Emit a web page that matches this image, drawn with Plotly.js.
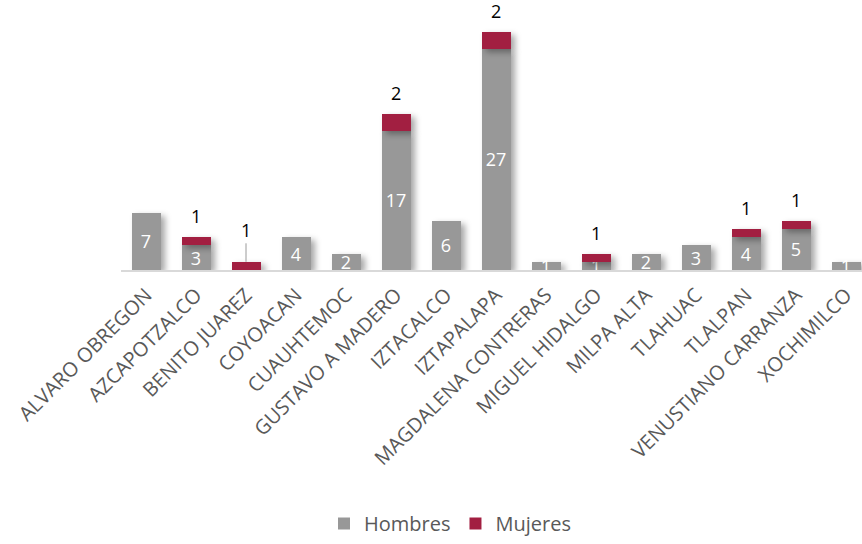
<!DOCTYPE html>
<html>
<head>
<meta charset="utf-8">
<script src="https://cdn.plot.ly/plotly-3.0.1.min.js"></script>
<style>
html,body{margin:0;padding:0;background:#fff;}
#chart{width:862px;height:544px;}
.barlayer .point path{filter:drop-shadow(4px 3px 3px rgba(0,0,0,0.35));}
</style>
</head>
<body>
<div id="chart"></div>
<script>
const categories = ["ALVARO OBREGON","AZCAPOTZALCO","BENITO JUAREZ","COYOACAN","CUAUHTEMOC","GUSTAVO A MADERO","IZTACALCO","IZTAPALAPA","MAGDALENA CONTRERAS","MIGUEL HIDALGO","MILPA ALTA","TLAHUAC","TLALPAN","VENUSTIANO CARRANZA","XOCHIMILCO"];
const hombres = [7,3,null,4,2,17,6,27,1,1,2,3,4,5,1];
const mujeres = [null,1,1,null,null,2,null,2,null,1,null,null,1,1,null];

const grayC = "#989898", redC = "#A21F41";
const font = "Open Sans, Liberation Sans, sans-serif";

const annotations = [];
categories.forEach((c,i)=>{
  if (mujeres[i] != null) {
    const total = (hombres[i]||0) + mujeres[i];
    const lone = hombres[i] == null;
    annotations.push({
      x:c, y:total, xref:'x', yref:'y', text:String(mujeres[i]),
      showarrow: lone, arrowhead:0, arrowcolor:'#9a9a9a', arrowwidth:1,
      ax:0, ay: lone ? -32 : 0, yshift: lone ? 0 : 21,
      font:{family:font, size:18, color:'#000'}
    });
  }
});

const traces = [
  {type:'bar', name:'Hombres', x:categories, y:hombres, marker:{color:grayC},
   text:hombres.map(v=>v==null?'':String(v)), textposition:'inside', insidetextanchor:'middle',
   constraintext:'none', textangle:0, cliponaxis:false,
   textfont:{family:font, size:18, color:'#ffffff'}, hoverinfo:'none'},
  {type:'bar', name:'Mujeres', x:categories, y:mujeres, marker:{color:redC},
   hoverinfo:'none'}
];

const layout = {
  width:862, height:544, barmode:'stack', bargap:0.42,
  paper_bgcolor:'#fff', plot_bgcolor:'#fff',
  margin:{l:121, r:0, t:10, b:274, autoexpand:false},
  showlegend:true,
  legend:{orientation:'h', x:0.444, xanchor:'center', y:-0.975, yanchor:'middle',
          font:{family:font, size:20, color:'#595959'}, itemwidth:30, traceorder:'normal'},
  xaxis:{type:'category', range:[-0.5,14.32], tickangle:-45, showgrid:false, ticks:'',
         tickmode:'array', tickvals:categories, ticktext:categories, ticklabelstandoff:4,
         showline:true, linecolor:'#d9d9d9', linewidth:1.5,
         tickfont:{family:font, size:20, color:'#595959'}, automargin:false},
  yaxis:{range:[0,31.7], visible:false, showgrid:false, zeroline:false},
  annotations:annotations,
  font:{family:font}
};

Plotly.newPlot('chart', traces, layout, {staticPlot:true});
</script>
</body>
</html>
